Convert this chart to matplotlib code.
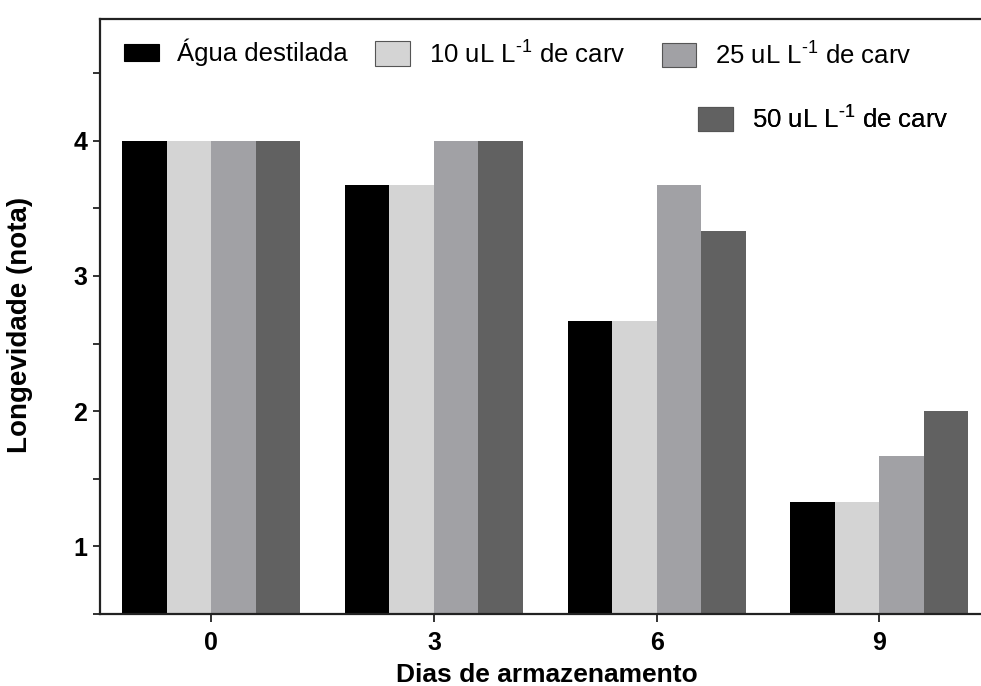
import matplotlib
matplotlib.use("Agg")
import matplotlib.pyplot as plt
from matplotlib.ticker import MultipleLocator
import numpy as np

plt.rcParams['font.family'] = ['Liberation Sans', 'DejaVu Sans']
plt.rcParams['mathtext.fontset'] = 'custom'
plt.rcParams['mathtext.rm'] = 'Liberation Sans'

# storage days and scores per treatment
dias = ['0', '3', '6', '9']
agua = [4.0, 3.67, 2.67, 1.33]
carv10 = [4.0, 3.67, 2.67, 1.33]
carv25 = [4.0, 4.0, 3.67, 1.67]
carv50 = [4.0, 4.0, 3.33, 2.0]

series = [
    (agua, 'Água destilada', '#000000'),
    (carv10, '10 uL L$^{\\text{-1}}$ de carv', '#d4d4d4'),
    (carv25, '25 uL L$^{\\text{-1}}$ de carv', '#a1a1a5'),
    (carv50, '50 uL L$^{\\text{-1}}$ de carv', '#616161'),
]

W, H = 981, 686
fig = plt.figure(figsize=(W / 100, H / 100), dpi=100)
ax = fig.add_axes([100 / W, 1 - 614 / H, 1 - 100 / W, (614 - 19) / H])

x = np.arange(len(dias))
width = 0.2
bars = []
for i, (vals, label, color) in enumerate(series):
    b = ax.bar(x - 0.3 + i * width, vals, width, color=color, label=label,
               linewidth=0)
    bars.append(b)

ax.set_xlim(-0.5, 3.457)
ax.set_ylim(0.5, 4.9)
ax.set_xticks(x)
ax.set_xticklabels(dias)
ax.set_yticks([1, 2, 3, 4])
ax.yaxis.set_minor_locator(MultipleLocator(0.5))
ax.xaxis.set_minor_locator(plt.NullLocator())

for s in ['left', 'bottom', 'top']:
    ax.spines[s].set_linewidth(1.6)
    ax.spines[s].set_color('#222222')
ax.spines['right'].set_visible(False)

ax.tick_params(axis='both', which='both', direction='out', width=1.3,
               color='#222222', labelsize=18)
ax.tick_params(axis='y', which='both', length=5, pad=4)
ax.tick_params(axis='x', length=6, pad=6)
for lbl in ax.get_xticklabels() + ax.get_yticklabels():
    lbl.set_fontweight('bold')

ax.set_xlabel('Dias de armazenamento', fontsize=19, fontweight='bold')
ax.xaxis.set_label_coords(547 / W, 1 - 682 / H, transform=fig.transFigure)
ax.xaxis.label.set_va('baseline')
ax.set_ylabel('Longevidade (nota)', fontsize=20, fontweight='bold')
ax.yaxis.set_label_coords(20 / W, 1 - 325 / H, transform=fig.transFigure)
ax.yaxis.label.set_va('center')

# one legend per entry so each box can sit where it belongs
# (left px, center y px, handle length, handle height, text pad)
legend_pos = [(124, 52.5, 1.36, 0.66, 0.72),
              (375, 53.5, 1.36, 1.12, 0.74),
              (662, 55, 1.32, 1.09, 0.74),
              (698, 118.5, 1.36, 1.05, 0.74)]
for b, (px, py, hl, hh, tp) in zip(bars, legend_pos):
    leg = ax.legend([b], [b.get_label()], loc='center left',
                    bbox_to_anchor=(px / W, 1 - py / H),
                    bbox_transform=fig.transFigure, frameon=False,
                    fontsize=18.5, borderpad=0, borderaxespad=0,
                    handlelength=hl, handleheight=hh, handletextpad=tp)
    for p in leg.get_patches():
        p.set_edgecolor('#555555' if p.get_facecolor()[0] > 0.1 else 'black')
        p.set_linewidth(0.8)
    ax.add_artist(leg)

fig.savefig('out.png', dpi=100)
